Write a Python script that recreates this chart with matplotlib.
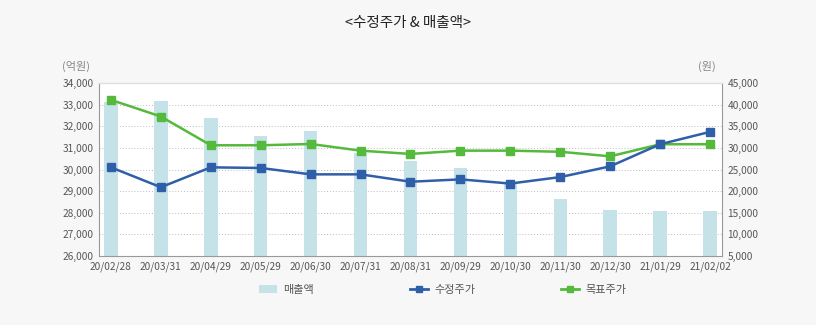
import numpy as np
import matplotlib.pyplot as plt
from matplotlib.ticker import FuncFormatter
from matplotlib.patches import Patch
from matplotlib.lines import Line2D

plt.rcParams['font.family'] = ['Noto Sans CJK KR', 'DejaVu Sans']

# 데이터
dates = ['20/02/28', '20/03/31', '20/04/29', '20/05/29', '20/06/30', '20/07/31', '20/08/31',
         '20/09/29', '20/10/30', '20/11/30', '20/12/30', '21/01/29', '21/02/02']
sales = [33100, 33150, 32370, 31550, 31770, 30750, 30400, 30080, 29360, 28640, 28120, 28070, 28070]
adj_price = [25500, 20900, 25500, 25350, 23880, 23880, 22170, 22720, 21750, 23250, 25730, 30840, 33700]
target_price = [41100, 37250, 30600, 30600, 30900, 29360, 28600, 29360, 29360, 29100, 28050, 30840, 30840]

bar_c = '#c6e2e9'
blue = '#2f5fa8'
green = '#55b93c'
txt = '#555555'

fig = plt.figure(figsize=(8.16, 3.25), dpi=100, facecolor='#f7f7f7')
ax = fig.add_axes([0.1213, 0.2123, 0.7635, 0.5323])
ax.set_facecolor('white')
x = np.arange(len(dates))

ax.bar(x, sales, width=0.27, color=bar_c, zorder=2)
ax.set_ylim(26000, 34000)
ax.set_yticks(np.arange(26000, 34001, 1000))
ax.set_xlim(-0.24, len(dates) - 1 + 0.24)
ax.set_xticks(x)
ax.set_xticklabels(dates)
ax.grid(axis='y', color='#bbbbbb', linestyle=(0, (1, 2)), linewidth=0.7, zorder=1)

ax2 = ax.twinx()
ax2.plot(x, adj_price, color=blue, lw=1.8, marker='s', ms=5.5, zorder=4)
ax2.plot(x, target_price, color=green, lw=1.8, marker='s', ms=5.5, zorder=3)
ax2.set_ylim(5000, 45000)
ax2.set_yticks(np.arange(5000, 45001, 5000))

fmt = FuncFormatter(lambda v, p: f'{int(v):,}')
for a in (ax, ax2):
    a.yaxis.set_major_formatter(fmt)
    a.tick_params(length=0, labelsize=7.3, colors=txt, pad=4)
    for s in a.spines.values():
        s.set_color('#999999')
    a.spines['top'].set_color('#dddddd')
ax.spines['right'].set_visible(False)
ax2.spines['left'].set_visible(False)
ax2.spines['bottom'].set_visible(False)

fig.text(0.5, 0.93, '<수정주가 & 매출액>', ha='center', va='center', fontsize=10.5,
         fontweight='medium', color='#222222')
fig.text(0.076, 0.795, '(억원)', ha='left', va='center', fontsize=8, color='#888888')
fig.text(0.866, 0.795, '(원)', ha='center', va='center', fontsize=8, color='#888888')

items = [
    (Patch(facecolor=bar_c), '매출액', 0.305),
    (Line2D([], [], color=blue, lw=2, marker='s', ms=4), '수정주가', 0.490),
    (Line2D([], [], color=green, lw=2, marker='s', ms=4), '목표주가', 0.675),
]
for h, lab, xp in items:
    leg = fig.legend([h], [lab], loc='center left', bbox_to_anchor=(xp, 0.107), frameon=False,
                     fontsize=8, handlelength=1.6, handletextpad=0.6)
    for t in leg.get_texts():
        t.set_color(txt)

fig.savefig('out.png', dpi=100, facecolor=fig.get_facecolor())
